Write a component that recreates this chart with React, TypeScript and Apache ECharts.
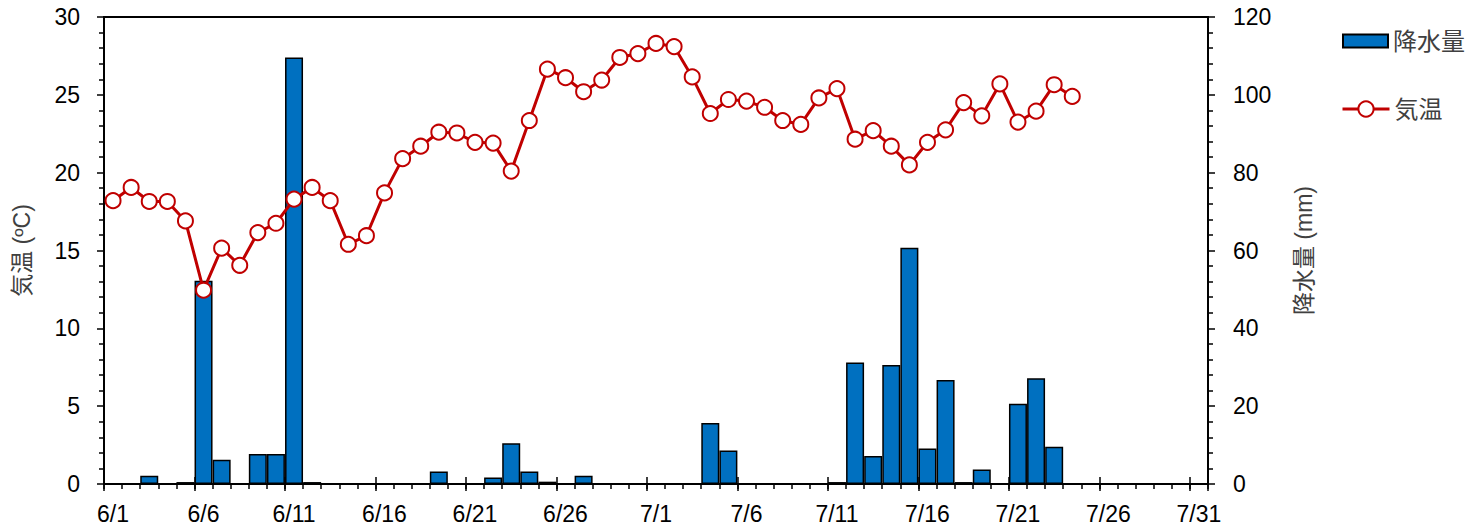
import React, { useEffect, useRef } from 'react';
import * as echarts from 'echarts';

// Tick labels every 5 days (6/1 ... 7/31)
const xTickLabels = ['6/1', '6/6', '6/11', '6/16', '6/21', '6/26', '7/1', '7/6', '7/11', '7/16', '7/21', '7/26', '7/31'];

// Daily values starting at 6/1 (index 0)
const temperature = [
  18.2, 19.05, 18.15, 18.15, 16.9, 12.45, 15.15, 14.05, 16.15, 16.75,
  18.3, 19.05, 18.2, 15.4, 15.95, 18.7, 20.9, 21.7, 22.6, 22.55,
  21.95, 21.9, 20.1, 23.35, 26.65, 26.1, 25.2, 25.95, 27.4, 27.65,
  28.3, 28.1, 26.15, 23.8, 24.7, 24.6, 24.2, 23.35, 23.1, 24.8,
  25.4, 22.15, 22.7, 21.7, 20.5, 21.95, 22.75, 24.5, 23.65, 25.7,
  23.25, 23.95, 25.65, 24.9,
];

const rainfall = [
  0, 0, 2.1, 0, 0.5, 52.2, 6.2, 0, 7.7, 7.7,
  109.6, 0.5, 0, 0, 0, 0, 0, 0, 3.2, 0,
  0, 1.7, 10.5, 3.2, 0.6, 0, 2.1, 0, 0, 0,
  0, 0, 0, 15.7, 8.6, 0, 0, 0, 0, 0,
  0.5, 31.2, 7.2, 30.6, 60.7, 9.1, 26.7, 0.5, 3.7, 0,
  20.6, 27.2, 9.6, 0,
];

const rainName = '降水量';
const tempName = '気温';

const FONT = "'Liberation Sans', Arial, 'Noto Sans CJK JP', sans-serif";

export default function App() {
  const ref = useRef<HTMLDivElement>(null);

  useEffect(() => {
    document.body.style.margin = '0';
    const chart = echarts.init(ref.current as HTMLDivElement, null, { renderer: 'svg' });
    const tickLine = { color: '#000', width: 1.5 };
    const xBase: any = {
      type: 'value',
      min: 0,
      max: 61,
      gridIndex: 0,
      position: 'bottom',
      splitLine: { show: false },
    };
    const legendText = { fontSize: 24, color: '#404040', fontFamily: FONT };
    const option: any = {
      animation: false,
      backgroundColor: '#fff',
      textStyle: { fontFamily: FONT },
      grid: {
        left: 104,
        right: 276,
        top: 17,
        bottom: 46,
        show: true,
        borderColor: '#000',
        borderWidth: 2,
        backgroundColor: 'transparent',
      },
      legend: [
        {
          orient: 'vertical',
          left: 1342,
          top: 29,
          padding: 0,
          itemWidth: 45,
          itemHeight: 13,
          icon: 'rect',
          textStyle: legendText,
          data: [rainName],
        },
        {
          orient: 'vertical',
          left: 1341,
          top: 97,
          padding: 0,
          itemWidth: 47,
          itemHeight: 19,
          textStyle: legendText,
          lineStyle: { width: 3 },
          data: [tempName],
        },
      ],
      xAxis: [
        {
          ...xBase,
          interval: 1,
          axisLine: { show: true, onZero: false, lineStyle: { color: '#000', width: 2 } },
          axisTick: { show: true, inside: false, length: 5, lineStyle: tickLine },
          axisLabel: { show: false },
        },
        {
          ...xBase,
          interval: 5,
          axisLine: { show: false, onZero: false },
          axisTick: { show: true, inside: false, length: 7, lineStyle: tickLine },
          axisLabel: {
            show: true,
            color: '#000',
            fontSize: 23,
            fontFamily: FONT,
            margin: 18,
            padding: [0, 0, 0, 18],
            formatter: (v: number) => {
              const k = v / 5;
              return Number.isInteger(k) && k < xTickLabels.length ? xTickLabels[k] : '';
            },
          },
        },
        {
          ...xBase,
          interval: 5,
          axisLine: { show: false, onZero: false },
          axisTick: { show: true, inside: true, length: 7, lineStyle: tickLine },
          axisLabel: { show: false },
        },
      ],
      yAxis: [
        {
          type: 'value',
          position: 'left',
          min: 0,
          max: 30,
          interval: 5,
          name: '気温 (ºC)',
          nameLocation: 'middle',
          nameGap: 71,
          nameTextStyle: { fontSize: 23, color: '#404040', fontFamily: FONT },
          axisLine: { show: true, onZero: false, lineStyle: { color: '#000', width: 2 } },
          axisTick: { show: true, length: 7, lineStyle: tickLine },
          minorTick: { show: true, splitNumber: 5, length: 5, lineStyle: tickLine },
          axisLabel: { color: '#000', fontSize: 23, fontFamily: FONT, margin: 24 },
          splitLine: { show: false },
        },
        {
          type: 'value',
          position: 'right',
          min: 0,
          max: 120,
          interval: 20,
          name: '降水量 (mm)',
          nameLocation: 'middle',
          nameGap: 84,
          nameTextStyle: { fontSize: 23, color: '#404040', fontFamily: FONT },
          axisLine: { show: true, onZero: false, lineStyle: { color: '#000', width: 2 } },
          axisTick: { show: true, length: 7, lineStyle: tickLine },
          minorTick: { show: true, splitNumber: 5, length: 5, lineStyle: tickLine },
          axisLabel: { color: '#000', fontSize: 23, fontFamily: FONT, margin: 25 },
          splitLine: { show: false },
        },
      ],
      series: [
        {
          type: 'bar',
          name: rainName,
          xAxisIndex: 0,
          yAxisIndex: 1,
          barWidth: 18,
          data: rainfall.map((v, i) => [i + 0.5, v]),
          itemStyle: { color: '#0070C0', borderColor: '#000', borderWidth: 1.5 },
          z: 2,
        },
        {
          type: 'line',
          name: tempName,
          xAxisIndex: 0,
          yAxisIndex: 0,
          data: temperature.map((v, i) => [i + 0.5, v]),
          symbol: 'circle',
          symbolSize: 15,
          showAllSymbol: true,
          lineStyle: { color: '#C00000', width: 3 },
          itemStyle: { color: '#fff', borderColor: '#C00000', borderWidth: 2 },
          z: 3,
        },
      ],
    };
    chart.setOption(option);
    return () => chart.dispose();
  }, []);

  return <div ref={ref} style={{ width: 1484, height: 530 }} />;
}
